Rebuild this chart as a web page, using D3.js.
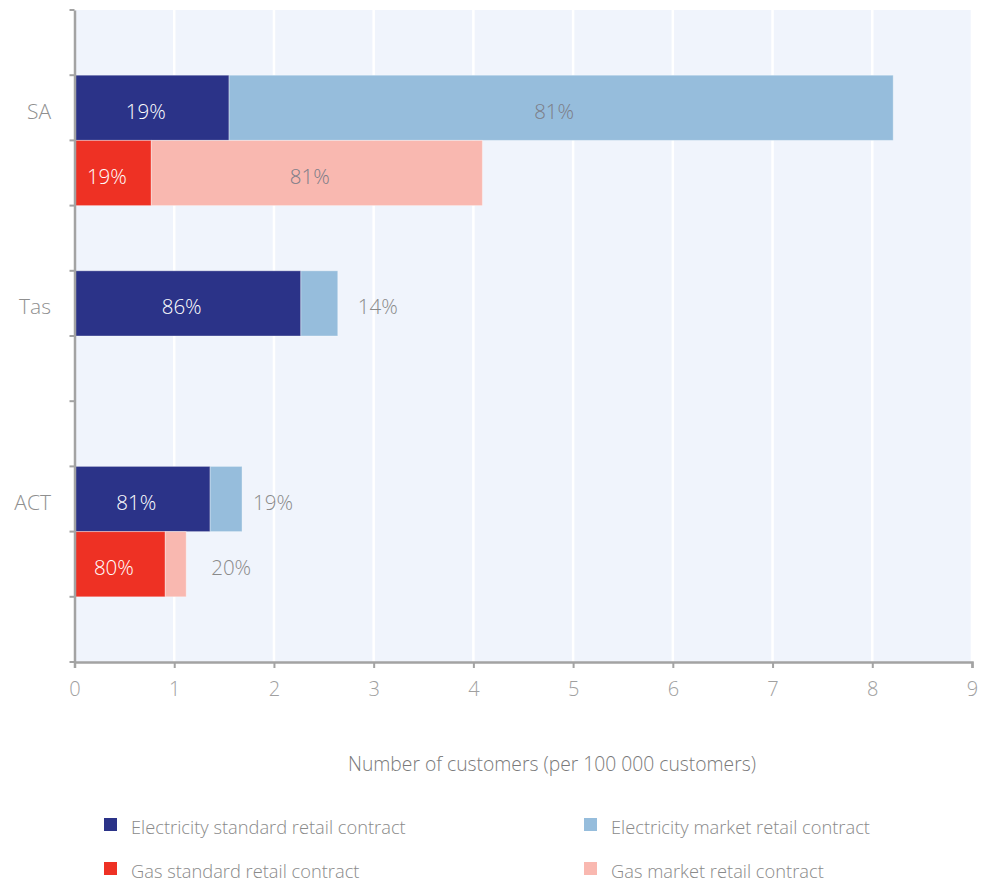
<!DOCTYPE html>
<html>
<head>
<meta charset="utf-8">
<script src="https://cdn.jsdelivr.net/npm/d3@7/dist/d3.min.js"></script>
<style>
  html, body { margin: 0; padding: 0; background: #ffffff; }
  svg { display: block; font-family: "Open Sans", "Liberation Sans", sans-serif; }
</style>
</head>
<body>
<svg id="chart" width="981" height="884"></svg>
<script>
// Rows of the chart, top to bottom (empty rows act as spacers)
const rows = ["r0", "SA-elec", "SA-gas", "r3", "Tas-elec", "Tas-gas", "r6", "ACT-elec", "ACT-gas", "r9"];
const regions = ["SA", "Tas", "ACT"];
const regionRows = ["SA-elec", "Tas-elec", "ACT-elec"];

// Bars: row, fuel, standard and market values (per 100 000 customers)
const barRows = ["SA-elec", "SA-gas", "Tas-elec", "ACT-elec", "ACT-gas"];
const barFuel = ["elec", "gas", "elec", "elec", "gas"];
const standardValues = [1.55, 0.77, 2.27, 1.36, 0.91];
const marketValues = [6.66, 3.32, 0.37, 0.32, 0.21];
const standardLabels = ["19%", "19%", "86%", "81%", "80%"];
const marketLabels = ["81%", "81%", "14%", "19%", "20%"];

const xTicks = [0, 1, 2, 3, 4, 5, 6, 7, 8, 9];
const legendLabels = [
  "Electricity standard retail contract",
  "Electricity market retail contract",
  "Gas standard retail contract",
  "Gas market retail contract"
];

const colors = {
  elecStd: "#2b3388",
  elecMkt: "#96bddc",
  gasStd: "#ee3124",
  gasMkt: "#f9b8b0"
};

const FONT = "'Open Sans', 'Liberation Sans', sans-serif";
const svg = d3.select("#chart");
const plot = { left: 74.5, right: 972, top: 10, bottom: 662 };

const x = d3.scaleLinear().domain([0, 9]).range([plot.left, plot.right]);
const y = d3.scaleBand().domain(rows).range([plot.top, plot.bottom]).padding(0);

// Plot background
svg.append("rect")
  .attr("x", plot.left).attr("y", plot.top)
  .attr("width", plot.right - plot.left).attr("height", plot.bottom - plot.top)
  .attr("fill", "#f0f4fc");

// Vertical gridlines
svg.append("g").selectAll("line").data(xTicks.slice(1)).join("line")
  .attr("x1", d => x(d)).attr("x2", d => x(d))
  .attr("y1", plot.top).attr("y2", plot.bottom)
  .attr("stroke", "#ffffff").attr("stroke-width", 2.5);

// Bars
const bars = barRows.map((r, i) => ({
  row: r, fuel: barFuel[i], std: standardValues[i], mkt: marketValues[i],
  stdLabel: standardLabels[i], mktLabel: marketLabels[i]
}));

const gBars = svg.append("g");
bars.forEach(b => {
  const y0 = y(b.row), h = y.bandwidth();
  gBars.append("rect")
    .attr("x", x(0)).attr("y", y0)
    .attr("width", x(b.std) - x(0)).attr("height", h)
    .attr("fill", b.fuel === "elec" ? colors.elecStd : colors.gasStd)
    .attr("stroke", "rgba(255,255,255,0.35)").attr("stroke-width", 1);
  gBars.append("rect")
    .attr("x", x(b.std)).attr("y", y0)
    .attr("width", x(b.std + b.mkt) - x(b.std)).attr("height", h)
    .attr("fill", b.fuel === "elec" ? colors.elecMkt : colors.gasMkt)
    .attr("stroke", "rgba(255,255,255,0.35)").attr("stroke-width", 1);
});

// Value labels
const gLab = svg.append("g").attr("font-size", 20.5).attr("font-weight", 300);
bars.forEach(b => {
  const cy = y(b.row) + y.bandwidth() / 2 + 11;
  gLab.append("text")
    .attr("x", (x(0) + x(b.std)) / 2 - 6).attr("y", cy)
    .attr("text-anchor", "middle").attr("fill", "#ffffff")
    .text(b.stdLabel);
  const mw = x(b.std + b.mkt) - x(b.std);
  if (mw > 80) {
    gLab.append("text")
      .attr("x", (x(b.std) + x(b.std + b.mkt)) / 2 - 7).attr("y", cy)
      .attr("text-anchor", "middle").attr("fill", "#7d7d88")
      .text(b.mktLabel);
  } else {
    const nudge = { "Tas-elec": 20, "ACT-elec": 11, "ACT-gas": 25 }[b.row] || 15;
    gLab.append("text")
      .attr("x", x(b.std + b.mkt) + nudge).attr("y", cy)
      .attr("text-anchor", "start").attr("fill", "#8a8a8a")
      .text(b.mktLabel);
  }
});

// Axes
const axisColor = "#a3a3a3";
const yAxis = svg.append("g").attr("transform", `translate(${plot.left},0)`)
  .call(d3.axisLeft(y).tickSize(0).tickFormat(""));
yAxis.select(".domain").attr("stroke", axisColor).attr("stroke-width", 2.5);
// Row boundary ticks
const boundaries = rows.map(r => y(r)).concat([plot.bottom]);
svg.append("g").selectAll("line").data(boundaries).join("line")
  .attr("x1", plot.left - 5).attr("x2", plot.left)
  .attr("y1", d => d).attr("y2", d => d)
  .attr("stroke", axisColor).attr("stroke-width", 2);

// Region labels
svg.append("g").selectAll("text").data(regions).join("text")
  .attr("x", 51)
  .attr("y", (d, i) => y(regionRows[i]) + y.bandwidth() / 2 + 11)
  .attr("text-anchor", "end")
  .attr("font-size", 21).attr("font-weight", 300).attr("fill", "#8f8f8f")
  .text(d => d);

const xAxis = svg.append("g").attr("transform", `translate(0,${plot.bottom})`)
  .call(d3.axisBottom(x).tickValues(xTicks).tickSize(6).tickPadding(14).tickFormat(d3.format("d")));
xAxis.select(".domain").attr("stroke", axisColor).attr("stroke-width", 2.5);
xAxis.selectAll(".tick line").attr("stroke", axisColor).attr("stroke-width", 2);
xAxis.selectAll(".tick text")
  .attr("font-size", 20).attr("font-weight", 300).attr("fill", "#a0a0a0")
  .attr("font-family", FONT);

// Axis title
svg.append("text")
  .attr("x", 552).attr("y", 771)
  .attr("text-anchor", "middle")
  .attr("font-size", 19.3).attr("font-weight", 300).attr("fill", "#7a7a7a")
  .text("Number of customers (per 100 000 customers)");

// Legend
const legendColors = [colors.elecStd, colors.elecMkt, colors.gasStd, colors.gasMkt];
const legendPos = [[104, 818], [584, 818], [104, 862], [584, 862]];
const gLeg = svg.append("g");
legendLabels.forEach((t, i) => {
  const [lx, ly] = legendPos[i];
  gLeg.append("rect").attr("x", lx).attr("y", ly).attr("width", 13).attr("height", 13)
    .attr("fill", legendColors[i]);
  gLeg.append("text").attr("x", lx + 27).attr("y", ly + 16)
    .attr("font-size", 18.3).attr("font-weight", 300).attr("fill", "#8a8a8a")
    .text(t);
});
</script>
</body>
</html>
